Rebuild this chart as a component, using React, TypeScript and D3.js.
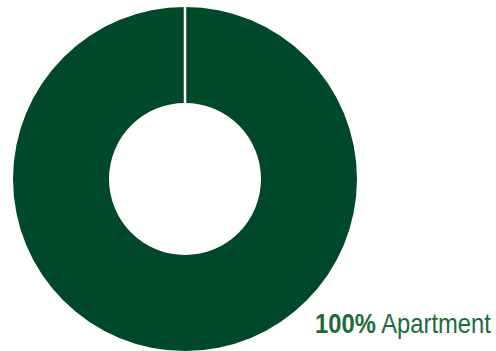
import React from "react";
import * as d3 from "d3";

const categories = ["Apartment"];
const values = [100];

const W = 496;
const H = 351;
const cx = 185;
const cy = 179;
const outerR = 172;
const innerR = 76;
const fill = "#00482a";
const textColor = "#1d6b38";

export default function App() {
  const pie = d3.pie<number>().sort(null).value((d) => d)(values);
  const arc = d3.arc<d3.PieArcDatum<number>>().innerRadius(innerR).outerRadius(outerR);
  const total = d3.sum(values);
  const fmt = d3.format(".0%");
  return (
    <svg width={W} height={H} style={{ position: "absolute", left: 0, top: 0 }}>
      <g transform={`translate(${cx},${cy})`}>
        {pie.map((p, i) => (
          <path key={i} d={arc(p) || ""} fill={fill} />
        ))}
        {pie.map((p, i) => {
          const a = p.startAngle;
          return (
            <line
              key={"s" + i}
              x1={Math.sin(a) * (innerR - 2)}
              y1={-Math.cos(a) * (innerR - 2)}
              x2={Math.sin(a) * (outerR + 2)}
              y2={-Math.cos(a) * (outerR + 2)}
              stroke="#fff"
              strokeWidth={2.5}
            />
          );
        })}
      </g>
      {categories.map((c, i) => (
        <text
          key={c}
          transform="translate(315,333) scale(0.85,1)"
          fill={textColor}
          fontFamily="'Liberation Sans', Arial, sans-serif"
          fontSize={28}
        >
          <tspan fontWeight="bold">{fmt(values[i] / total)}</tspan>
          <tspan> {c}</tspan>
        </text>
      ))}
    </svg>
  );
}
